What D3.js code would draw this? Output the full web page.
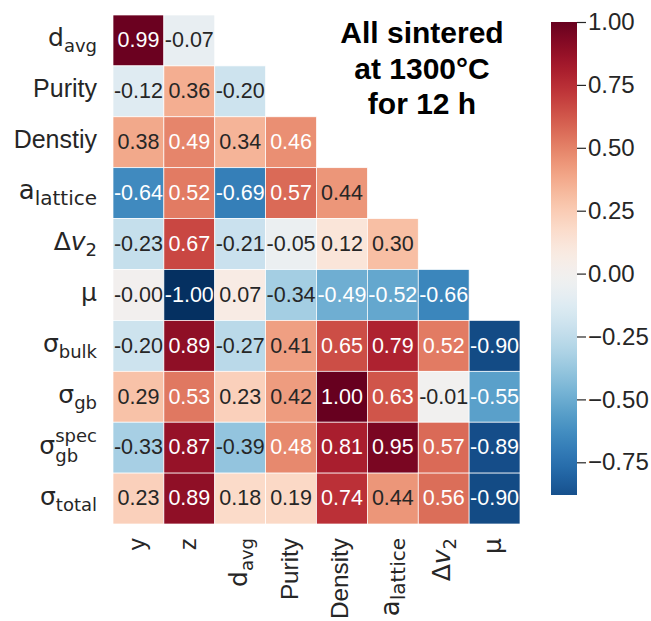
<!DOCTYPE html>
<html>
<head>
<meta charset="utf-8">
<script src="https://cdn.jsdelivr.net/npm/d3@7"></script>
<style>
  html, body { margin: 0; padding: 0; background: #fff; }
  svg { display: block; }
</style>
</head>
<body>
<div id="chart"></div>
<script>
// ---------------- data ----------------
const rowKeys = ["d_avg", "Purity", "Denstiy", "a_lattice", "dv2", "mu", "s_bulk", "s_gb", "s_gb_spec", "s_total"];
const colKeys = ["y", "z", "d_avg", "Purity", "Density", "a_lattice", "dv2", "mu"];

const v_davg     = [0.99, -0.07];
const v_purity   = [-0.12, 0.36, -0.20];
const v_denstiy  = [0.38, 0.49, 0.34, 0.46];
const v_alattice = [-0.64, 0.52, -0.69, 0.57, 0.44];
const v_dv2      = [-0.23, 0.67, -0.21, -0.05, 0.12, 0.30];
const v_mu       = [-0.00, -1.00, 0.07, -0.34, -0.49, -0.52, -0.66];
const v_sbulk    = [-0.20, 0.89, -0.27, 0.41, 0.65, 0.79, 0.52, -0.90];
const v_sgb      = [0.29, 0.53, 0.23, 0.42, 1.00, 0.63, -0.01, -0.55];
const v_sgbspec  = [-0.33, 0.87, -0.39, 0.48, 0.81, 0.95, 0.57, -0.89];
const v_stotal   = [0.23, 0.89, 0.18, 0.19, 0.74, 0.44, 0.56, -0.90];

const rowValues = [v_davg, v_purity, v_denstiy, v_alattice, v_dv2, v_mu, v_sbulk, v_sgb, v_sgbspec, v_stotal];

const cbarTicks = [1.00, 0.75, 0.50, 0.25, 0.00, -0.25, -0.50, -0.75];
const cbarMin = -0.88, cbarMax = 1.00;

const titleLines = ["All sintered", "at 1300°C", "for 12 h"];

// label definitions (rich text parts)
const labelParts = {
  "y": [{t: "y"}],
  "z": [{t: "z"}],
  "Purity": [{t: "Purity"}],
  "Denstiy": [{t: "Denstiy"}],
  "Density": [{t: "Density"}],
  "d_avg": [{t: "d", math: true}, {t: "avg", sub: true}],
  "a_lattice": [{t: "a", math: true, big: true}, {t: "lattice", sub: true, big: true}],
  "dv2": [{t: "Δ", math: true}, {t: "v", math: true, italic: true}, {t: "2", sub: true}],
  "mu": [{t: "μ", math: true}],
  "s_bulk": [{t: "σ", math: true}, {t: "bulk", sub: true}],
  "s_gb": [{t: "σ", math: true}, {t: "gb", sub: true}],
  "s_gb_spec": [{t: "σ", math: true}, {t: "spec", sup: true}, {t: "gb", sub: true, stack: true, deep: true}],
  "s_total": [{t: "σ", math: true}, {t: "total", sub: true}]
};

// ---------------- layout ----------------
const W = 651, H = 621;
const svg = d3.select("#chart").append("svg").attr("width", W).attr("height", H);
svg.append("rect").attr("width", W).attr("height", H).attr("fill", "#fff");

const x = d3.scaleBand().domain(colKeys).range([113, 520]).paddingInner(0);
const y = d3.scaleBand().domain(rowKeys).range([15, 524]).paddingInner(0);

// seaborn-like: RdBu_r centred at 0
const color = d3.scaleSequential(t => d3.interpolateRdBu(1 - t)).domain([-1, 1]).clamp(true);

function relLum(c) {
  const rgb = d3.rgb(c);
  const f = v => { v /= 255; return v <= 0.03928 ? v / 12.92 : Math.pow((v + 0.055) / 1.055, 2.4); };
  return 0.2126 * f(rgb.r) + 0.7152 * f(rgb.g) + 0.0722 * f(rgb.b);
}
function fmt(v) {
  const neg = v < 0 || Object.is(v, -0);
  return (neg ? "-" : "") + Math.abs(v).toFixed(2);
}

const cells = [];
rowValues.forEach((vals, i) => vals.forEach((v, j) => cells.push({r: rowKeys[i], c: colKeys[j], v})));

const gCells = svg.append("g");
gCells.selectAll("rect").data(cells).join("rect")
  .attr("x", d => x(d.c)).attr("y", d => y(d.r))
  .attr("width", x.bandwidth()).attr("height", y.bandwidth())
  .attr("fill", d => color(d.v))
  .attr("stroke", "#fff").attr("stroke-width", 0.7);

gCells.selectAll("text").data(cells).join("text")
  .attr("x", d => x(d.c) + x.bandwidth() / 2)
  .attr("y", d => y(d.r) + y.bandwidth() / 2 + 6.8)
  .attr("text-anchor", "middle")
  .attr("font-family", "'Liberation Sans', Arial, sans-serif")
  .attr("font-size", 21.5)
  .attr("fill", d => relLum(color(d.v)) > 0.408 ? "#262626" : "#ffffff")
  .text(d => fmt(d.v));

// rich label builder
function buildLabel(g, parts, baseSize) {
  let cx = 0, lastStart = 0;
  parts.forEach(p => {
    const small = p.sub || p.sup;
    const size = small ? (p.big ? 20 : 18) : (p.math ? (p.big ? 26 : 25) : baseSize);
    let dy = 0;
    if (p.sub) dy = p.deep ? 8 : 6;
    if (p.sup) dy = -12;
    const px = p.stack ? lastStart : cx;
    const t = g.append("text")
      .attr("x", px).attr("y", dy)
      .attr("font-size", size)
      .attr("font-family", (p.math || small) ? "'DejaVu Sans', sans-serif" : "'Liberation Sans', Arial, sans-serif")
      .attr("font-style", p.italic ? "italic" : null)
      .attr("fill", "#262626")
      .text(p.t);
    const w = t.node().getComputedTextLength();
    lastStart = px;
    cx = Math.max(cx, px + w);
  });
  return cx;
}

// row labels
const gRows = svg.append("g");
rowKeys.forEach(k => {
  const outer = gRows.append("g").attr("transform", `translate(97,${y(k) + y.bandwidth() / 2 + 6})`);
  const inner = outer.append("g");
  const w = buildLabel(inner, labelParts[k], 25);
  inner.attr("transform", `translate(${-w},0)`);
});

// column labels (rotated)
const gCols = svg.append("g");
colKeys.forEach(k => {
  const outer = gCols.append("g").attr("transform", `translate(${x(k) + x.bandwidth() / 2 + 6.5},538) rotate(-90)`);
  const inner = outer.append("g");
  const w = buildLabel(inner, labelParts[k], 24.3);
  inner.attr("transform", `translate(${-w},0)`);
});

// ---------------- colorbar ----------------
const cbX = 551, cbW = 26;
const cy = d3.scaleLinear().domain([cbarMin, cbarMax]).range([495, 22]);
const defs = svg.append("defs");
const grad = defs.append("linearGradient").attr("id", "cbgrad")
  .attr("x1", 0).attr("y1", 1).attr("x2", 0).attr("y2", 0);
d3.range(0, 1.0001, 0.02).forEach(s => {
  const v = cbarMin + s * (cbarMax - cbarMin);
  grad.append("stop").attr("offset", s).attr("stop-color", color(v));
});
svg.append("rect").attr("x", cbX).attr("y", cy(cbarMax)).attr("width", cbW)
  .attr("height", cy(cbarMin) - cy(cbarMax)).attr("fill", "url(#cbgrad)");

const cbAxis = d3.axisRight(cy).tickValues(cbarTicks).tickSize(9).tickPadding(2)
  .tickFormat(v => (v < 0 ? "\u2212" : "") + Math.abs(v).toFixed(2));
const gAxis = svg.append("g").attr("transform", `translate(${cbX + cbW},0)`).call(cbAxis);
gAxis.select(".domain").remove();
gAxis.selectAll(".tick line").attr("stroke", "#262626").attr("stroke-width", 1.2);
gAxis.selectAll(".tick text").attr("font-family", "'Liberation Sans', Arial, sans-serif")
  .attr("font-size", 24).attr("fill", "#262626");

// ---------------- title ----------------
const gTitle = svg.append("g");
gTitle.selectAll("text").data(titleLines).join("text")
  .attr("x", 422).attr("y", (d, i) => 43 + i * 35.5)
  .attr("text-anchor", "middle")
  .attr("font-family", "'Liberation Sans', Arial, sans-serif")
  .attr("font-weight", "bold").attr("font-size", 30).attr("fill", "#000")
  .text(d => d);
</script>
</body>
</html>
